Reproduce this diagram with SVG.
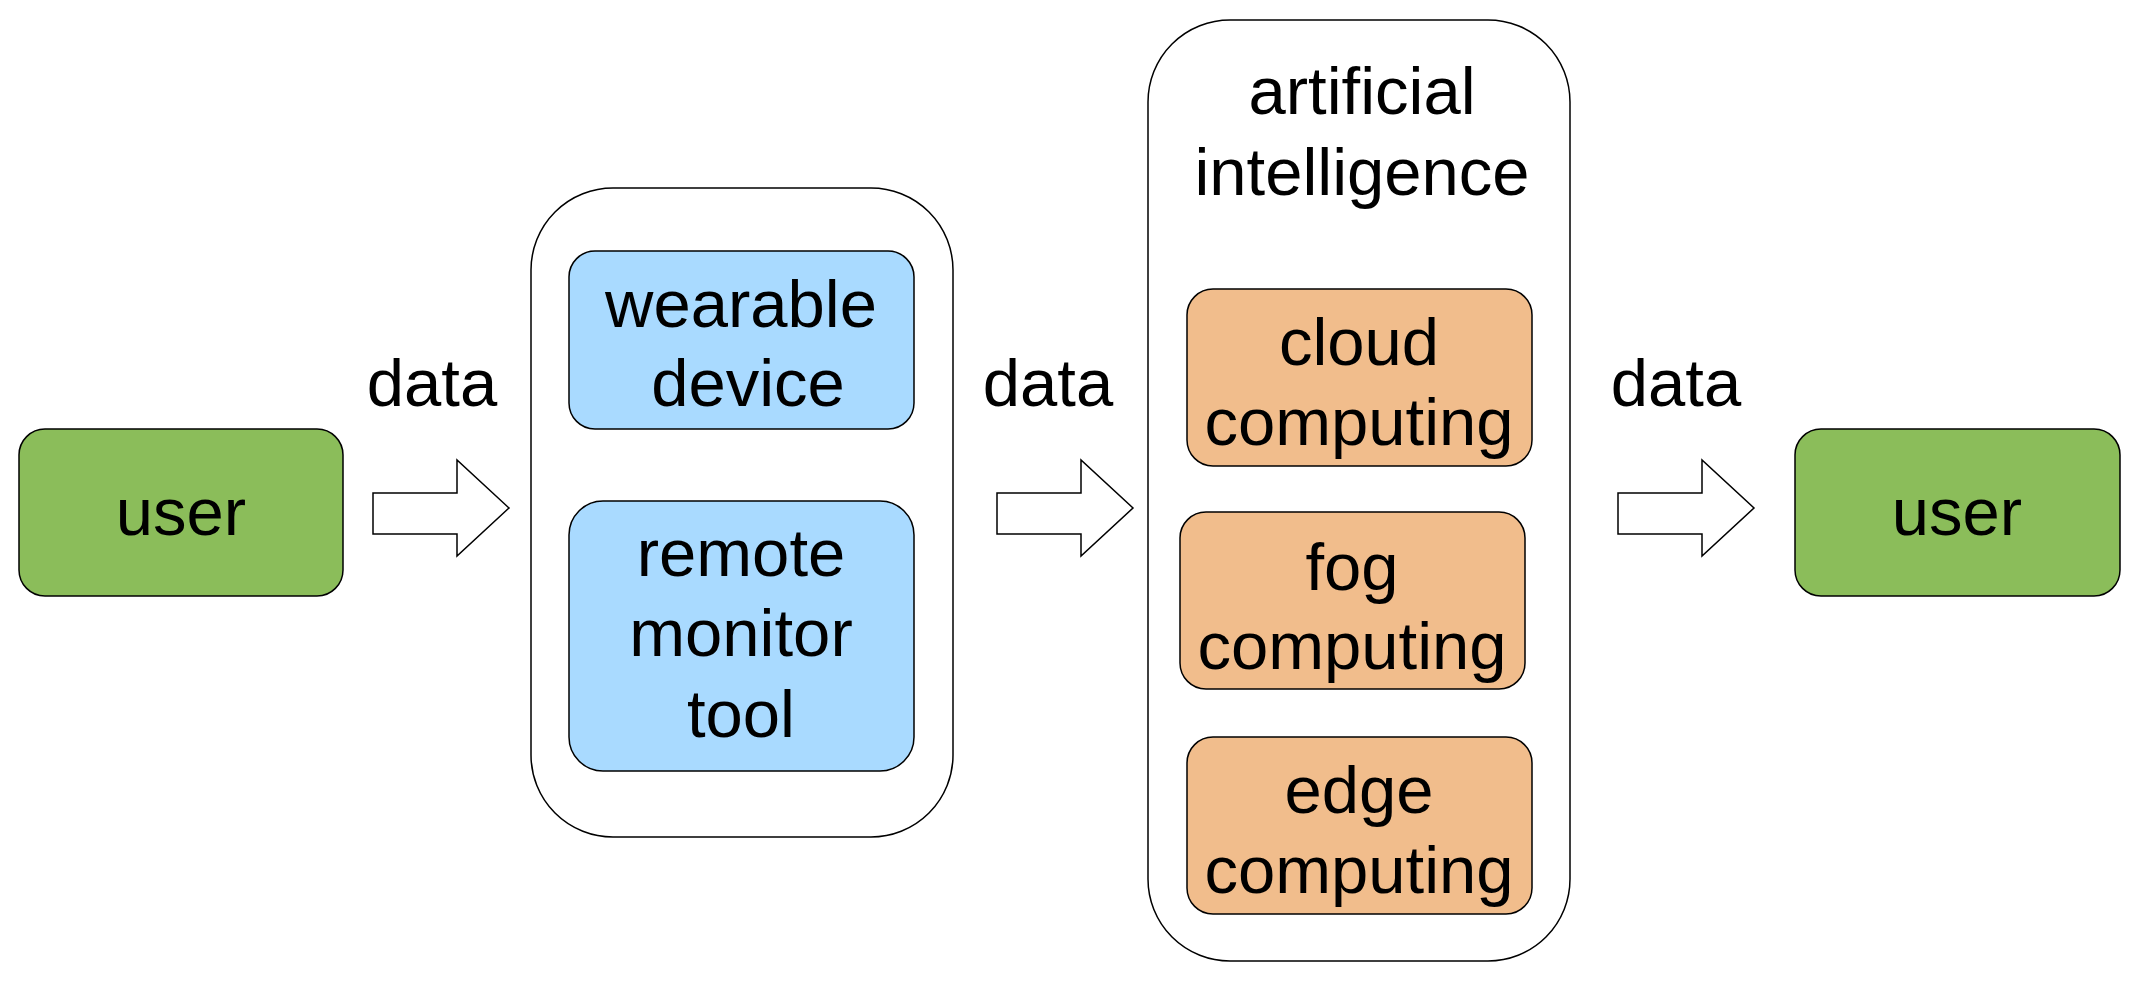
<svg xmlns="http://www.w3.org/2000/svg" width="2135" height="981" viewBox="0 0 2135 981">
<style>
text{font-family:"Liberation Sans",Arial,sans-serif;font-size:67px;fill:#000;text-anchor:middle}
.g{fill:#8BBD5A;stroke:#000;stroke-width:1.5}
.b{fill:#A9DAFF;stroke:#000;stroke-width:1.5}
.o{fill:#F1BD8C;stroke:#000;stroke-width:1.5}
.c{fill:#fff;stroke:#000;stroke-width:1.5}
.a{fill:#fff;stroke:#000;stroke-width:1.5}
</style>
<rect width="2135" height="981" fill="#fff"/>
<g id="user1"><rect class="g" x="19" y="429" width="324" height="167" rx="26"/><text x="181" y="535">user</text></g>
<g id="device-box"><rect class="c" x="531" y="188" width="422" height="649" rx="82"/>
<g id="wearable"><rect class="b" x="569" y="251" width="345" height="178" rx="26"/><text x="741" y="327">wearable</text><text x="748" y="406">device</text></g>
<g id="remote"><rect class="b" x="569" y="501" width="345" height="270" rx="34"/><text x="741" y="576">remote</text><text x="741" y="656">monitor</text><text x="741" y="737">tool</text></g>
</g>
<g id="ai-box"><rect class="c" x="1148" y="20" width="422" height="941" rx="82"/>
<text x="1362" y="114">artificial</text><text x="1362" y="195">intelligence</text>
<g id="cloud"><rect class="o" x="1187" y="289" width="345" height="177" rx="26"/><text x="1359" y="365">cloud</text><text x="1359" y="445">computing</text></g>
<g id="fog"><rect class="o" x="1180" y="512" width="345" height="177" rx="26"/><text x="1352" y="590">fog</text><text x="1352" y="669">computing</text></g>
<g id="edge"><rect class="o" x="1187" y="737" width="345" height="177" rx="26"/><text x="1359" y="813">edge</text><text x="1359" y="893">computing</text></g>
</g>
<g id="user2"><rect class="g" x="1795" y="429" width="325" height="167" rx="26"/><text x="1957" y="535">user</text></g>
<g id="connectors">
<path class="a" d="M373 493H457V460L509 508L457 556V534H373Z"/>
<path class="a" d="M997 493H1081V460L1133 508L1081 556V534H997Z"/>
<path class="a" d="M1618 493H1702V460L1754 508L1702 556V534H1618Z"/>
<text x="432" y="406">data</text><text x="1048" y="406">data</text><text x="1676" y="406">data</text>
</g>
</svg>
